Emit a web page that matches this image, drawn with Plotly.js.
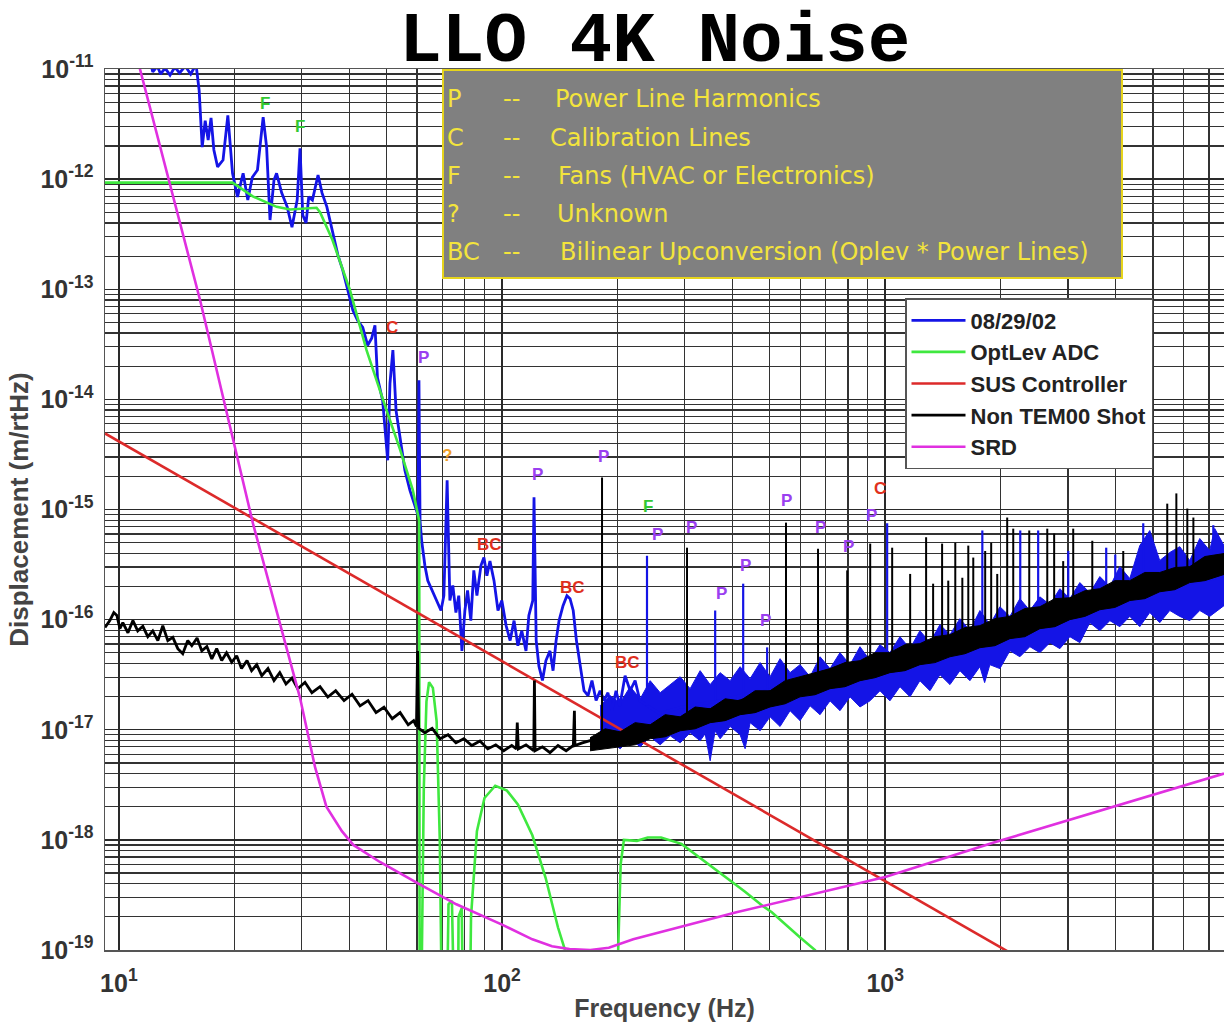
<!DOCTYPE html>
<html>
<head>
<meta charset="utf-8">
<script src="https://cdn.plot.ly/plotly-3.0.1.min.js"></script>
<style>html,body{margin:0;padding:0;background:#fff;}#chart{width:1224px;height:1029px;}</style>
</head>
<body>
<div id="chart"></div>
<script>
// ---------------- DATA ----------------
const seriesNames = ['08/29/02', 'OptLev ADC', 'SUS Controller', 'Non TEM00 Shot', 'SRD'];

// axis ticks
const xTickVals = [10, 100, 1000];
const xTickText = ['10<sup>1</sup>', '10<sup>2</sup>', '10<sup>3</sup>'];
const yTickVals = [1e-19, 1e-18, 1e-17, 1e-16, 1e-15, 1e-14, 1e-13, 1e-12, 1e-11];
const yTickText = ['10<sup>-19</sup>','10<sup>-18</sup>','10<sup>-17</sup>','10<sup>-16</sup>','10<sup>-15</sup>','10<sup>-14</sup>','10<sup>-13</sup>','10<sup>-12</sup>','10<sup>-11</sup>'];

// 08/29/02 (blue) – low frequency trace
const blueFreq = [12.05,12.26,12.6,12.85,13.2,13.6,14.0,14.4,14.9,15.4,15.9,16.2,16.5,16.8,17.1,17.4,17.7,18.1,18.7,19.25,19.8,20.4,21.1,21.7,22.3,23.0,23.8,24.3,24.8,25.4,25.8,26.6,27.5,28.3,29.2,29.7,30.2,30.8,31.3,32.0,33.1,33.9,34.9,36.1,37.3,38.4,39.6,40.8,42.0,43.3,44.6,45.7,46.6,47.3,48.8,50.3,51.0,51.9,52.9,54.2,55.8,57.5,59.3,60.4,60.7,61.1,61.7,62.9,64.0,65.7,67.6,69.3,70.5,71.9,73.1,74.4,75.8,77.1,78.6,80.0,81.3,82.9,84.4,86.0,88.1,89.7,91.3,93.0,95.3,97.6,99.9,102.5,105,107.5,110,112.6,115.5,117.5,120.3,121.2,122.8,124.8,127.5,130.2,133.4,135.9,138.4,140.9,144.3,147.7,150.5,153.4,156.4,159.8,163.7,167.7,171.7,176,180.3,184.7,189,193.5,198.4,203,209.5,216,222.5,229,258,292,371,472,600,1094,1997,3645,7662];
const blueVal = [1.2e-11,9.4e-12,1.06e-11,9.0e-12,1.02e-11,8.8e-12,1.04e-11,9.2e-12,1.06e-11,9.0e-12,1.1e-11,6.4e-12,1.95e-12,3.4e-12,2.26e-12,3.6e-12,1.84e-12,1.29e-12,1.49e-12,3.8e-12,1.13e-12,6.9e-13,1.13e-12,6.45e-13,1.04e-12,1.21e-12,3.66e-12,1.95e-12,4.25e-13,9.8e-13,1.13e-12,7.5e-13,5.6e-13,3.66e-13,6.45e-13,1.9e-12,4.7e-13,4.0e-13,6.9e-13,6.45e-13,1.09e-12,7.5e-13,5.6e-13,3.24e-13,2.04e-13,1.49e-13,9.8e-14,6.45e-14,5.2e-14,4.5e-14,3.1e-14,3.6e-14,4.7e-14,1.58e-14,9.8e-15,2.8e-15,1.4e-14,2.8e-14,7.9e-15,4.25e-15,2.26e-15,1.49e-15,1.09e-15,8.8e-16,1.49e-14,7.9e-16,5.2e-16,3.1e-16,2.26e-16,1.84e-16,1.49e-16,1.21e-16,1.65e-16,1.84e-15,1.49e-16,2.04e-16,1.16e-16,1.65e-16,5.2e-17,1.21e-16,1.84e-16,9.8e-17,2.8e-16,1.65e-16,3.1e-16,3.66e-16,2.5e-16,3.4e-16,2.26e-16,1.21e-16,1.49e-16,8.8e-17,6.45e-17,9.8e-17,5.8e-17,7.9e-17,5.2e-17,1.09e-16,1.49e-16,1.29e-15,6.45e-17,3.8e-17,2.8e-17,4.25e-17,5.2e-17,3.44e-17,6.45e-17,9.8e-17,1.34e-16,1.65e-16,1.55e-16,1.21e-16,6.45e-17,3.8e-17,2.26e-17,2.04e-17,2.8e-17,1.84e-17,2.26e-17,1.84e-17,2.17e-17,1.49e-17,2.26e-17,1.65e-17,3.1e-17,2.26e-17,2.8e-17,1.84e-17,1.4e-17,1.6e-17,1.84e-17,2.26e-17,2.36e-17,3.8e-17,6.7e-17,1.4e-16,2.5e-16];

// 08/29/02 (blue) – dense noise band above ~180 Hz: upper and lower edges
const blueBandFreq = [180.3,191.5,203.4,216,229.4,243.6,258.7,274.7,291.7,309.7,328.9,349.3,370.9,393.8,418.2,444.1,471.6,500.7,531.7,564.6,599.6,636.7,676.1,717.9,762.3,809.5,859.6,912.8,969.3,1029,1093,1161,1232,1309,1390,1476,1567,1664,1767,1876,1993,2116,2247,2386,2534,2691,2857,3034,3222,3421,3633,3858,4096,4350,4619,4905,5208,5531,5873,6237,6623,7032,7247,7662];
const blueBandUpper = [1.65e-17,2.04e-17,1.75e-17,2.46e-17,1.91e-17,2.79e-17,2.17e-17,2.57e-17,3.03e-17,2.36e-17,3.44e-17,2.57e-17,3.30e-17,2.79e-17,3.74e-17,2.91e-17,4.07e-17,3.03e-17,4.42e-17,3.30e-17,3.90e-17,3.03e-17,4.60e-17,3.59e-17,5.01e-17,3.90e-17,5.68e-17,4.24e-17,5.92e-17,5.01e-17,7.00e-17,5.45e-17,7.94e-17,6.18e-17,9.01e-17,7.30e-17,1.02e-16,7.94e-17,1.21e-16,9.01e-17,1.31e-16,1.07e-16,1.55e-16,1.21e-16,1.61e-16,1.37e-16,1.91e-16,1.55e-16,2.17e-16,1.75e-16,2.46e-16,1.99e-16,3.03e-16,2.36e-16,4.70e-16,6.44e-16,3.44e-16,4.07e-16,4.60e-16,3.44e-16,5.45e-16,4.24e-16,6.72e-16,4.70e-16];
const blueBandLowFreq = [180.3,191.5,203.4,216,229.4,243.6,258.7,274.7,291.7,309.7,328.9,339,349.3,360,370.9,393.8,418.2,431,444.1,471.6,500.7,531.7,564.6,599.6,636.7,676.1,717.9,762.3,809.5,859.6,912.8,969.3,1029,1093,1161,1232,1309,1390,1476,1567,1664,1767,1818,1876,1993,2116,2247,2386,2534,2691,2857,3034,3222,3421,3633,3858,4096,4350,4619,4905,5208,5531,5873,6237,6623,7032,7662];
const blueBandLower = [7.15e-18,7.94e-18,6.72e-18,8.28e-18,7.00e-18,8.63e-18,7.30e-18,8.82e-18,7.61e-18,9.39e-18,7.94e-18,9.19e-18,5.22e-18,9.79e-18,8.28e-18,1.07e-17,9.01e-18,6.72e-18,1.16e-17,9.79e-18,1.31e-17,1.07e-17,1.49e-17,1.21e-17,1.65e-17,1.37e-17,1.83e-17,1.49e-17,1.99e-17,1.61e-17,1.83e-17,2.26e-17,1.83e-17,2.46e-17,1.99e-17,2.79e-17,2.26e-17,3.16e-17,2.57e-17,3.44e-17,2.79e-17,3.74e-17,2.68e-17,3.90e-17,3.59e-17,5.22e-17,4.60e-17,5.68e-17,5.01e-17,6.18e-17,5.45e-17,7.00e-17,6.18e-17,9.39e-17,7.94e-17,9.79e-17,8.63e-17,1.07e-16,8.63e-17,1.16e-16,9.39e-17,1.21e-16,1.07e-16,9.79e-17,1.21e-16,1.07e-16,1.34e-16];

// 08/29/02 (blue) – line spikes: frequency, foot and tip
const blueSpikeFreq = [239,360,426,492,1012,1793,2252,2508,3005,3775,3986,4716,7185];
const blueSpikeBase = [1.65e-17,1.84e-17,2.04e-17,2.26e-17,4.7e-17,7.6e-17,9.8e-17,1.09e-16,1.34e-16,1.65e-16,1.76e-16,2.04e-16,2.26e-16];
const blueSpikeTop  = [3.8e-16,1.21e-16,2.12e-16,5.6e-17,7.5e-16,6.45e-16,6.45e-16,6.45e-16,4.2e-16,4.5e-16,3.9e-16,7.5e-16,7.2e-16];

// OptLev ADC (green)
const greenFreq = [9.2,19.8,22.3,25.8,28,32.8,33.5,36.1,40.1,44.3,50,54.2,58.5,60.8,61.0,61.3,61.8,62.5,63.5,64.5,66,67.5,68.8,69.5,70.5,71.5,72.5,74,75.5,76.5,77,78.5,80,81.5,83,86,90,96,103,110,120,130,140,146,148,199,201,204,208,225,240,260,294,330,380,430,480,506,600,656,665];
const greenVal = [9.3e-13,9.3e-13,7.0e-13,5.6e-13,5.3e-13,5.5e-13,5.0e-13,2.8e-13,9.8e-14,2.8e-14,7.9e-15,3.5e-15,1.5e-15,7.9e-16,1e-21,1e-21,1e-19,3e-18,1.8e-17,2.7e-17,2.4e-17,1.2e-17,1e-18,1e-21,1e-21,1e-20,2.6e-19,2.8e-19,1e-20,1e-21,2e-19,2.4e-19,1e-21,1e-21,2e-19,1.2e-18,2.4e-18,3.1e-18,2.8e-18,2.1e-18,1.1e-18,4.5e-19,1.6e-19,1e-19,1e-21,1e-21,1e-19,6e-19,1.0e-18,9.8e-19,1.05e-18,1.05e-18,9.2e-19,6.8e-19,4.65e-19,3.4e-19,2.5e-19,2.2e-19,1.3e-19,1e-19,1e-21];

// SUS Controller (red)
const susFreq = [9.2, 2100];
const susVal = [4.9e-15, 9.6e-20];

// Non TEM00 Shot (black) – trace
const blackFreq = [9.2,9.47,9.7,9.88,10.06,10.24,10.56,10.88,11.2,11.55,11.9,12.26,12.64,13.02,13.42,13.83,14.25,14.68,15.13,15.5,16.0,16.46,16.97,17.48,18.0,18.55,19.1,19.7,20.3,20.9,21.6,22.2,22.9,23.6,24.5,25.4,26.3,27.3,28.3,29.3,30.6,31.9,33.5,35.1,36.8,38.7,40.6,42.6,44.7,46.9,49.2,51.7,54.2,56.9,58.8,59.8,60.2,60.6,62.9,65.7,68.9,72.3,75.8,79.5,83.4,87.6,91.8,96.3,101,106,109,109.6,110.3,115.5,121,121.5,122,127.5,133.4,140,147,153.5,154.5,155,162,169.7,177,189,203,229,258,292,329,600,1094,1997,3645,7662];
const blackVal = [8.5e-17,9.8e-17,1.16e-16,1.09e-16,8.3e-17,9.4e-17,7.6e-17,9.8e-17,7.9e-17,8.7e-17,7.0e-17,7.9e-17,6.45e-17,8.8e-17,6.45e-17,6.9e-17,5.45e-17,4.9e-17,6.45e-17,5.8e-17,6.8e-17,5.2e-17,5.7e-17,4.4e-17,5.45e-17,4.25e-17,5.0e-17,4.1e-17,4.7e-17,3.6e-17,4.25e-17,3.44e-17,3.9e-17,3.1e-17,3.6e-17,2.8e-17,3.3e-17,2.6e-17,2.95e-17,2.36e-17,2.7e-17,2.17e-17,2.46e-17,1.98e-17,2.26e-17,1.84e-17,2.1e-17,1.65e-17,1.84e-17,1.43e-17,1.6e-17,1.26e-17,1.43e-17,1.11e-17,1.21e-17,1.07e-17,5.2e-17,1.03e-17,9.4e-18,1.03e-17,8.3e-18,9.0e-18,7.6e-18,8.3e-18,7.2e-18,7.9e-18,6.7e-18,7.3e-18,6.45e-18,7.2e-18,6.7e-18,1.16e-17,6.7e-18,7.3e-18,6.45e-18,2.8e-17,6.45e-18,7.0e-18,6.2e-18,7.2e-18,6.45e-18,7.2e-18,1.49e-17,7.2e-18,7.6e-18,7.9e-18,8.3e-18,8.8e-18,8.5e-18,1.0e-17,1.16e-17,1.26e-17,1.43e-17,2.67e-17,4.4e-17,8.1e-17,1.58e-16,3.1e-16];

// Non TEM00 Shot (black) – dense band above ~170 Hz
const blackBandFreq = [169.7,185.8,203.4,222.6,243.6,266.6,291.7,319.2,349.3,382.3,418.2,457.7,500.7,548,599.6,656.2,717.9,785.6,859.6,940.7,1029,1126,1232,1348,1476,1615,1767,1934,2116,2315,2534,2773,3034,3320,3633,3975,4350,4760,5208,5699,6237,6825,7662];
const blackBandUpper = [8.46e-18,1.02e-17,9.58e-18,1.16e-17,1.11e-17,1.37e-17,1.31e-17,1.61e-17,1.55e-17,1.91e-17,1.83e-17,2.26e-17,2.26e-17,2.79e-17,3.03e-17,3.30e-17,3.59e-17,4.07e-17,4.24e-17,5.01e-17,5.01e-17,5.92e-17,6.05e-17,7.00e-17,7.30e-17,8.46e-17,8.82e-17,1.02e-16,1.07e-16,1.26e-16,1.31e-16,1.55e-16,1.58e-16,1.83e-16,1.91e-16,2.26e-16,2.26e-16,2.68e-16,2.68e-16,2.97e-16,3.03e-16,3.74e-16,3.98e-16];
const blackBandLower = [6.44e-18,6.72e-18,7.00e-18,7.30e-18,8.28e-18,8.63e-18,9.79e-18,1.02e-17,1.16e-17,1.21e-17,1.37e-17,1.43e-17,1.61e-17,1.72e-17,1.99e-17,2.08e-17,2.36e-17,2.46e-17,2.79e-17,2.97e-17,3.30e-17,3.44e-17,3.90e-17,4.07e-17,4.60e-17,4.90e-17,5.56e-17,5.80e-17,6.72e-17,7.00e-17,8.28e-17,8.63e-17,1.00e-16,1.07e-16,1.23e-16,1.29e-16,1.49e-16,1.55e-16,1.79e-16,1.87e-16,2.17e-16,2.26e-16,2.57e-16];

// Non TEM00 Shot (black) – line spikes
const blackSpikeFreq = [182.4,304,551,668,796,914,1043,1162,1279,1334,1408,1461,1524,1590,1648,1698,1824,1891,1961,2082,2159,2377,2649,2761,2915,3096,3472,4182,5448,5754,6146,6374];
const blackSpikeBase = [8.3e-18,1.26e-17,2.26e-17,2.8e-17,3.2e-17,3.7e-17,4.25e-17,4.7e-17,5.2e-17,5.45e-17,5.8e-17,6.05e-17,6.3e-17,6.7e-17,7.0e-17,7.3e-17,7.8e-17,8.1e-17,8.5e-17,9.0e-17,9.4e-17,1.04e-16,1.18e-16,1.23e-16,1.31e-16,1.4e-16,1.58e-16,1.95e-16,2.5e-16,2.67e-16,2.85e-16,2.97e-16];
const blackSpikeTop = [1.95e-15,4.5e-16,7.6e-16,4.4e-16,2.8e-16,4.9e-16,4.5e-16,2.6e-16,5.6e-16,2.12e-16,4.9e-16,2.26e-16,5.0e-16,2.4e-16,4.7e-16,3.66e-16,4.2e-16,5.0e-16,2.6e-16,8.45e-16,6.7e-16,6.45e-16,6.7e-16,6.05e-16,3.4e-16,6.7e-16,5.2e-16,4.2e-16,1.13e-15,1.4e-15,1.02e-15,8.45e-16];

// SRD (magenta)
const srdFreq = [10.5,11.35,16.3,20.3,22.4,29.7,32.5,34.8,38.2,40.9,48,60.5,76,100,120,135,150,170,190,220,409,1000,1931,7662];
const srdVal = [3e-11,1e-11,7.9e-14,3.2e-15,7.4e-16,1.95e-17,4.6e-18,2.0e-18,1.2e-18,9e-19,6.3e-19,4.0e-19,2.6e-19,1.7e-19,1.25e-19,1.08e-19,1.02e-19,1.0e-19,1.05e-19,1.25e-19,2.2e-19,4.6e-19,9.5e-19,4.0e-18];

// Line identification labels
const labelText = ['F','F','C','P','?','BC','P','P','BC','F','P','P','BC','P','P','P','P','P','P','P','C'];
const labelFreq = [24.0,29.7,51.6,62.5,71.8,93,124,184.5,153,240.5,254,311.5,212,375,431,486,554,676,800,919,970];
const labelVal  = [4.9e-12,3.0e-12,4.5e-14,2.4e-14,3.1e-15,4.8e-16,2.1e-15,3.0e-15,1.95e-16,1.06e-15,5.9e-16,6.8e-16,4.07e-17,1.72e-16,3.1e-16,9.8e-17,1.2e-15,6.8e-16,4.6e-16,8.8e-16,1.55e-15];

// Key box contents
const keyCodes = ['P','C','F','?','BC'];
const keyMeanings = ['Power Line Harmonics','Calibration Lines','Fans (HVAC or Electronics)','Unknown','Bilinear Upconversion (Oplev * Power Lines)'];

// ---------------- BUILD ----------------
const LOG = Math.log10;
const C = {blue:'#1414e6', green:'#3fe83f', red:'#dc2a2a', black:'#000000', magenta:'#e030e0'};

function spikeXY(f, base, top){
  const x=[], y=[];
  for(let i=0;i<f.length;i++){ x.push(f[i],f[i],null); y.push(base[i],top[i],null); }
  return {x,y};
}
function bandXY(fu, vu, fl, vl){
  return {x: fu.concat(fl.slice().reverse()), y: vu.concat(vl.slice().reverse())};
}

const bb = bandXY(blueBandFreq, blueBandUpper, blueBandLowFreq, blueBandLower);
const bs = spikeXY(blueSpikeFreq, blueSpikeBase, blueSpikeTop);
const kb = bandXY(blackBandFreq, blackBandUpper, blackBandFreq, blackBandLower);
const ks = spikeXY(blackSpikeFreq, blackSpikeBase, blackSpikeTop);

const traces = [
  {x: bb.x, y: bb.y, mode:'lines', fill:'toself', fillcolor:C.blue, line:{color:C.blue, width:1}, showlegend:false, hoverinfo:'skip'},
  {x: blueFreq, y: blueVal, mode:'lines', name:'<b>'+seriesNames[0]+'</b>', line:{color:C.blue, width:2.8}},
  {x: bs.x, y: bs.y, mode:'lines', line:{color:C.blue, width:2.2}, showlegend:false, hoverinfo:'skip', connectgaps:false},
  {x: greenFreq, y: greenVal, mode:'lines', name:'<b>'+seriesNames[1]+'</b>', line:{color:C.green, width:2.6}},
  {x: susFreq, y: susVal, mode:'lines', name:'<b>'+seriesNames[2]+'</b>', line:{color:C.red, width:2.6}},
  {x: kb.x, y: kb.y, mode:'lines', fill:'toself', fillcolor:C.black, line:{color:C.black, width:1}, showlegend:false, hoverinfo:'skip'},
  {x: blackFreq, y: blackVal, mode:'lines', name:'<b>'+seriesNames[3]+'</b>', line:{color:C.black, width:2.8}},
  {x: ks.x, y: ks.y, mode:'lines', line:{color:C.black, width:2}, showlegend:false, hoverinfo:'skip', connectgaps:false},
  {x: srdFreq, y: srdVal, mode:'lines', name:'<b>'+seriesNames[4]+'</b>', line:{color:C.magenta, width:2.6}}
];

// minor grid positions (2..9 of every decade)
const minorX = [], minorY = [];
for(let d=0; d<=4; d++) for(let k=2;k<=9;k++) minorX.push(k*Math.pow(10,d));
for(let d=-20; d<=-11; d++) for(let k=2;k<=9;k++) minorY.push(k*Math.pow(10,d));

const labelColor = {P:'#9a40f0', C:'#e0301e', BC:'#e0301e', F:'#33c833', '?':'#f0a028'};
const annotations = labelText.map((t,i)=>({
  x: LOG(labelFreq[i]), y: LOG(labelVal[i]), xref:'x', yref:'y', text:'<b>'+t+'</b>',
  showarrow:false, font:{family:'Liberation Sans, Arial, sans-serif', size:17, color:labelColor[t]}
}));

// key box text (yellow on gray)
const plotL=105, plotW=1119, plotB=950, plotH=881;
const px = v => (v-plotL)/plotW, py = v => (plotB-v)/plotH;
const rowY = [99,138,176,214,252];
const descX = [553,548,556,555,558];
const keyFont = {family:'DejaVu Sans, sans-serif', size:24, color:'#f3e43c'};
keyCodes.forEach((k,i)=>{
  annotations.push({x:px(445), y:py(rowY[i]), xref:'paper', yref:'paper', xanchor:'left', yanchor:'middle', text:k, showarrow:false, font:keyFont});
  annotations.push({x:px(501), y:py(rowY[i]), xref:'paper', yref:'paper', xanchor:'left', yanchor:'middle', text:'--', showarrow:false, font:keyFont});
  annotations.push({x:px(descX[i]), y:py(rowY[i]), xref:'paper', yref:'paper', xanchor:'left', yanchor:'middle', text:keyMeanings[i], showarrow:false, font:keyFont});
});

const tickFont = {family:'Liberation Sans, Arial, sans-serif', size:25, color:'#333', weight:'bold'};
const layout = {
  width:1224, height:1029,
  margin:{l:plotL, r:0, t:69, b:79, pad:0},
  paper_bgcolor:'#ffffff', plot_bgcolor:'#ffffff',
  title:{text:'<b>LLO 4K Noise</b>', font:{family:'Liberation Mono, Courier New, monospace', size:71, color:'#000'}, x:0.535, xanchor:'center', y:0.9645, yanchor:'middle'},
  xaxis:{type:'log', range:[LOG(9.2), LOG(7662)], tickmode:'array', tickvals:xTickVals, ticktext:xTickText,
    showgrid:true, gridcolor:'#2a2a2a', gridwidth:1.4, zeroline:false,
    minor:{tickvals:minorX, showgrid:true, gridcolor:'#333', gridwidth:1.2, ticks:''},
    ticks:'', ticklabelstandoff:10, tickfont:tickFont, showline:true, linecolor:'#555', linewidth:1.5, mirror:true,
    title:{text:'<b>Frequency (Hz)</b>', font:{family:'Liberation Sans, Arial, sans-serif', size:25, color:'#444'}, standoff:4},
    automargin:false},
  yaxis:{type:'log', range:[-19,-11], tickmode:'array', tickvals:yTickVals, ticktext:yTickText,
    showgrid:true, gridcolor:'#2a2a2a', gridwidth:1.4, zeroline:false,
    minor:{tickvals:minorY, showgrid:true, gridcolor:'#333', gridwidth:1.2, ticks:''},
    ticks:'', ticklabelstandoff:5, tickfont:tickFont, showline:true, linecolor:'#555', linewidth:1.5, mirror:true,
    title:{text:'<b>Displacement (m/rtHz)</b>', font:{family:'Liberation Sans, Arial, sans-serif', size:26, color:'#444'}, standoff:4},
    automargin:false},
  legend:{x:px(905), y:py(298), xanchor:'left', yanchor:'top', bgcolor:'#ffffff', bordercolor:'#555', borderwidth:1.5,
    font:{family:'Liberation Sans, Arial, sans-serif', size:22, color:'#222'}, itemwidth:54, tracegroupgap:0},
  shapes:[{type:'rect', xref:'paper', yref:'paper', x0:px(443), x1:px(1122), y0:py(278), y1:py(70),
    fillcolor:'#808080', line:{color:'#e6d41c', width:2}, layer:'above'}],
  annotations:annotations,
  showlegend:true
};

Plotly.newPlot('chart', traces, layout, {displayModeBar:false, staticPlot:true});
</script>
</body>
</html>
